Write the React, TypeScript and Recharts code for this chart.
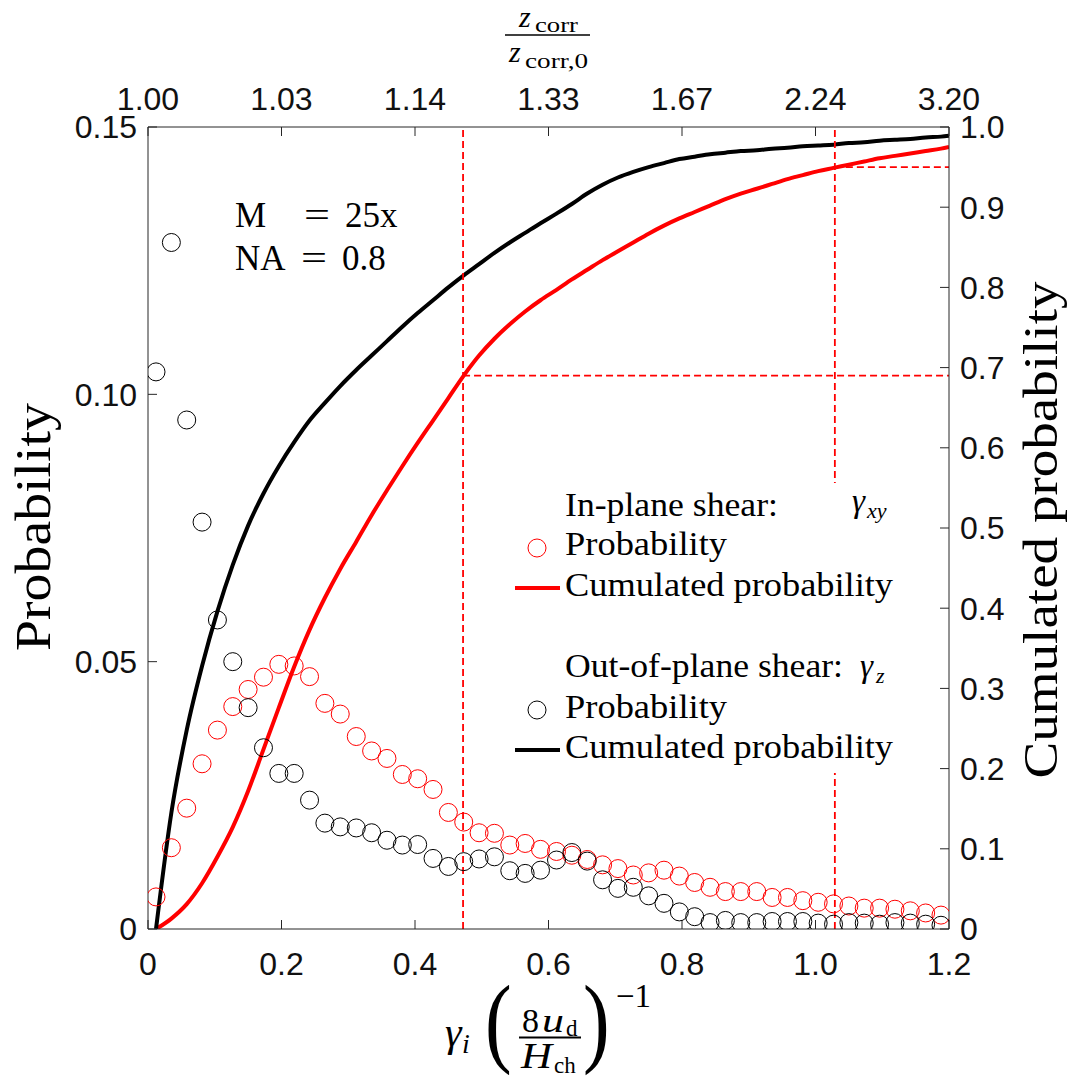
import React from "react";
import { ComposedChart, Line, Scatter, XAxis, YAxis, Label } from "recharts";

// bin centres of the shear-rate histogram
const GAMMA = [
  0.012, 0.035, 0.058, 0.081, 0.104, 0.127, 0.150, 0.173, 0.196, 0.219,
  0.242, 0.265, 0.288, 0.312, 0.335, 0.358, 0.381, 0.404, 0.427, 0.450,
  0.473, 0.496, 0.519, 0.542, 0.565, 0.588, 0.612, 0.635, 0.658, 0.681,
  0.704, 0.727, 0.750, 0.773, 0.796, 0.819, 0.842, 0.865, 0.888, 0.912,
  0.935, 0.958, 0.981, 1.004, 1.027, 1.050, 1.073, 1.096, 1.119, 1.142,
  1.165, 1.188,
];
// cumulated curves run on to the right edge
const GAMMA_CUM = [...GAMMA, 1.2];

const P_INPLANE = [
  0.0060, 0.0152, 0.0226, 0.0309, 0.0372, 0.0416, 0.0448, 0.0471, 0.0495, 0.0492,
  0.0472, 0.0422, 0.0402, 0.0360, 0.0333, 0.0319, 0.0289, 0.0281, 0.0261, 0.0218,
  0.0200, 0.0180, 0.0179, 0.0157, 0.0160, 0.0149, 0.0145, 0.0138, 0.0130, 0.0120,
  0.0113, 0.0101, 0.0105, 0.0110, 0.0099, 0.0087, 0.0078, 0.0070, 0.0070, 0.0070,
  0.0059, 0.0059, 0.0053, 0.0050, 0.0047, 0.0043, 0.0039, 0.0039, 0.0037, 0.0034,
  0.0030, 0.0026,
];
const P_OUTPLANE = [
  0.1042, 0.1284, 0.0952, 0.0761, 0.0578, 0.0500, 0.0414, 0.0339, 0.0291, 0.0291,
  0.0241, 0.0198, 0.0191, 0.0189, 0.0180, 0.0166, 0.0157, 0.0158, 0.0132, 0.0117,
  0.0126, 0.0131, 0.0135, 0.0109, 0.0104, 0.0110, 0.0129, 0.0143, 0.0127, 0.0092,
  0.0076, 0.0078, 0.0062, 0.0048, 0.0032, 0.0023, 0.0012, 0.0016, 0.0012, 0.0012,
  0.0014, 0.0014, 0.0014, 0.0011, 0.0009, 0.0012, 0.0011, 0.0009, 0.0012, 0.0011,
  0.0009, 0.0007,
];
const CUM_INPLANE = [
  0.000, 0.013, 0.031, 0.057, 0.090, 0.127, 0.172, 0.224, 0.276, 0.327,
  0.373, 0.413, 0.449, 0.483, 0.516, 0.547, 0.577, 0.606, 0.634, 0.662,
  0.690, 0.715, 0.736, 0.754, 0.770, 0.784, 0.797, 0.810, 0.822, 0.834,
  0.845, 0.856, 0.867, 0.877, 0.886, 0.894, 0.902, 0.910, 0.917, 0.923,
  0.929, 0.935, 0.940, 0.945, 0.949, 0.953, 0.957, 0.961, 0.964, 0.967,
  0.970, 0.973, 0.975,
];
const CUM_OUTPLANE = [
  0.000, 0.145, 0.248, 0.328, 0.396, 0.454, 0.503, 0.543, 0.577, 0.607,
  0.634, 0.656, 0.677, 0.697, 0.715, 0.733, 0.751, 0.768, 0.784, 0.800,
  0.815, 0.829, 0.843, 0.856, 0.868, 0.880, 0.892, 0.904, 0.917, 0.928,
  0.937, 0.944, 0.950, 0.955, 0.960, 0.963, 0.966, 0.968, 0.970, 0.971,
  0.973, 0.974, 0.976, 0.977, 0.978, 0.980, 0.981, 0.983, 0.984, 0.985,
  0.987, 0.988, 0.989,
];

// dashed guides: shear at which the in-plane cumulated probability reaches 0.69 / 0.95
const GUIDE_GAMMA = [0.472, 1.029];
const GUIDE_CUM = [0.69, 0.95];

const X_TICKS = [0, 0.2, 0.4, 0.6, 0.8, 1.0, 1.2];
const TOP_TICK_LABELS = ["1.00", "1.03", "1.14", "1.33", "1.67", "2.24", "3.20"];
const LEFT_TICKS = [0, 0.05, 0.1, 0.15];
const RIGHT_TICKS = [0, 0.1, 0.2, 0.3, 0.4, 0.5, 0.6, 0.7, 0.8, 0.9, 1.0];

const RED = "#ff0000";
const AXIS = "#262626";
const SANS = "'Liberation Sans', Arial, sans-serif";
const SERIF = "'Liberation Serif', 'Times New Roman', serif";
const TICK = { fontSize: 32, fill: "#111", fontFamily: SANS };

const inPlane = GAMMA.map((x, i) => ({ x, y: P_INPLANE[i] }));
const outPlane = GAMMA.map((x, i) => ({ x, y: P_OUTPLANE[i] }));
const cumIn = GAMMA_CUM.map((x, i) => ({ x, y: CUM_INPLANE[i] }));
const cumOut = GAMMA_CUM.map((x, i) => ({ x, y: CUM_OUTPLANE[i] }));
const guides = [
  [{ x: GUIDE_GAMMA[0], y: 0 }, { x: GUIDE_GAMMA[0], y: 1 }],
  [{ x: GUIDE_GAMMA[0], y: GUIDE_CUM[0] }, { x: 1.2, y: GUIDE_CUM[0] }],
  [{ x: GUIDE_GAMMA[1], y: 0 }, { x: GUIDE_GAMMA[1], y: 1 }],
  [{ x: GUIDE_GAMMA[1], y: GUIDE_CUM[1] }, { x: 1.2, y: GUIDE_CUM[1] }],
];

const ring = (color: string) => (p: any) =>
  <circle cx={p.cx} cy={p.cy} r={9} fill="none" stroke={color} strokeWidth={1} />;

const fmt = (d: number) => (v: number) => (v === 0 ? "0" : v.toFixed(d));

function BottomTitle() {
  return (
    <g fontFamily={SERIF} fill="#000" stroke="none">
      <text x={445} y={1046} fontSize={42} fontStyle="italic">γ</text>
      <text x={462} y={1053} fontSize={28} fontStyle="italic">i</text>
      <text transform="translate(485,1054) scale(0.8,1)" fontSize={100}>(</text>
      <text x={522} y={1032} fontSize={34}>8</text>
      <text x={542} y={1032} fontSize={34} fontStyle="italic" textLength={22} lengthAdjust="spacingAndGlyphs">u</text>
      <text x={566} y={1036} fontSize={23}>d</text>
      <line x1={519} x2={581} y1={1037.5} y2={1037.5} stroke="#000" strokeWidth={1.8} />
      <text x={521} y={1068} fontSize={35} fontStyle="italic" textLength={31} lengthAdjust="spacingAndGlyphs">H</text>
      <text x={554} y={1073} fontSize={23}>ch</text>
      <text transform="translate(583,1054) scale(0.8,1)" fontSize={100}>)</text>
      <text x={616} y={1007} fontSize={33}>−1</text>
    </g>
  );
}

function TopTitle() {
  return (
    <g fontFamily={SERIF} fill="#000" stroke="none">
      <text x={519} y={27} fontSize={30} fontStyle="italic">z</text>
      <text x={535} y={32} fontSize={21} textLength={43} lengthAdjust="spacingAndGlyphs">corr</text>
      <line x1={505} x2={590} y1={35} y2={35} stroke="#000" strokeWidth={1.6} />
      <text x={509} y={62} fontSize={30} fontStyle="italic">z</text>
      <text x={525} y={68} fontSize={21} textLength={63} lengthAdjust="spacingAndGlyphs">corr,0</text>
    </g>
  );
}

function LeftTitle() {
  return (
    <text transform="translate(50,527) rotate(-90)" textAnchor="middle" fontFamily={SERIF} stroke="none"
      fontSize={50} fill="#000" textLength={248} lengthAdjust="spacingAndGlyphs">Probability</text>
  );
}

function RightTitle() {
  return (
    <text transform="translate(1057,530) rotate(-90)" textAnchor="middle" fontFamily={SERIF} stroke="none"
      fontSize={48} fill="#000" textLength={497} lengthAdjust="spacingAndGlyphs">Cumulated probability</text>
  );
}

function Overlay() {
  const lt = { fontFamily: SERIF, fontSize: 33, fill: "#000", lengthAdjust: "spacingAndGlyphs" as const };
  return (
    <svg width={1067} height={1077} style={{ position: "absolute", left: 0, top: 0, pointerEvents: "none" }}>
      {/* setup annotation */}
      <g fontFamily={SERIF} fontSize={35} fill="#000">
        <text x={235} y={227}>M</text>
        <text x={304} y={227} textLength={26} lengthAdjust="spacingAndGlyphs">=</text>
        <text x={345} y={227}>25x</text>
        <text x={235} y={270}>NA</text>
        <text x={301} y={270} textLength={26} lengthAdjust="spacingAndGlyphs">=</text>
        <text x={342} y={270}>0.8</text>
      </g>
      {/* legend */}
      <rect x={505} y={483} width={395} height={290} fill="#fff" />
      <text {...lt} x={565} y={516} textLength={213}>In-plane shear:</text>
      <text x={852} y={512} fontFamily={SERIF} fontSize={33} fontStyle="italic">γ</text>
      <text x={867} y={518} fontFamily={SERIF} fontSize={22} fontStyle="italic">xy</text>
      <circle cx={537} cy={548} r={9} fill="none" stroke={RED} strokeWidth={1} />
      <text {...lt} x={565} y={555} textLength={162}>Probability</text>
      <line x1={515} x2={560} y1={588} y2={588} stroke={RED} strokeWidth={4} />
      <text {...lt} x={565} y={596} textLength={328}>Cumulated probability</text>
      <text {...lt} x={565} y={677} textLength={278}>Out-of-plane shear:</text>
      <text x={860} y={677} fontFamily={SERIF} fontSize={33} fontStyle="italic">γ</text>
      <text x={876} y={683} fontFamily={SERIF} fontSize={22} fontStyle="italic">z</text>
      <circle cx={537} cy={710} r={9} fill="none" stroke="#000" strokeWidth={1} />
      <text {...lt} x={565} y={718} textLength={162}>Probability</text>
      <line x1={515} x2={560} y1={750} y2={750} stroke="#000" strokeWidth={4} />
      <text {...lt} x={565} y={758} textLength={328}>Cumulated probability</text>
    </svg>
  );
}

export default function App() {
  return (
    <div style={{ position: "absolute", left: 0, top: 0, width: 1067, height: 1077, overflow: "hidden", background: "#fff" }}>
      <ComposedChart width={1067} height={1077} margin={{ top: 87, right: 48, bottom: 108, left: 78 }}>
        <XAxis
          xAxisId="b" dataKey="x" type="number" domain={[0, 1.2]} ticks={X_TICKS} interval={0}
          allowDataOverflow orientation="bottom" height={40} stroke={AXIS}
          tickSize={-9} tickMargin={32} tick={TICK} tickFormatter={fmt(1)}
          label={<Label content={BottomTitle} />}
        />
        <XAxis
          xAxisId="t" dataKey="x" type="number" domain={[0, 1.2]} ticks={X_TICKS} interval={0}
          allowDataOverflow orientation="top" height={40} stroke={AXIS}
          tickSize={-9} tickMargin={26} tick={TICK}
          tickFormatter={(v: number) => TOP_TICK_LABELS[Math.round(v / 0.2)]}
          label={<Label content={TopTitle} />}
        />
        <YAxis
          yAxisId="l" type="number" domain={[0, 0.15]} ticks={LEFT_TICKS} interval={0}
          allowDataOverflow orientation="left" width={70} stroke={AXIS}
          tickSize={-9} tickMargin={20} tick={TICK} tickFormatter={fmt(2)}
          label={<Label content={LeftTitle} />}
        />
        <YAxis
          yAxisId="r" type="number" domain={[0, 1]} ticks={RIGHT_TICKS} interval={0}
          allowDataOverflow orientation="right" width={70} stroke={AXIS}
          tickSize={-9} tickMargin={20} tick={TICK} tickFormatter={fmt(1)}
          label={<Label content={RightTitle} />}
        />

        <Scatter xAxisId="b" yAxisId="l" data={inPlane} dataKey="y" shape={ring(RED)} isAnimationActive={false} />
        <Scatter xAxisId="b" yAxisId="l" data={outPlane} dataKey="y" shape={ring("#000")} isAnimationActive={false} />

        <Line xAxisId="b" yAxisId="r" data={cumIn} dataKey="y" type="monotone" stroke={RED} strokeWidth={4}
          dot={false} activeDot={false} isAnimationActive={false} />
        <Line xAxisId="b" yAxisId="r" data={cumOut} dataKey="y" type="monotone" stroke="#000" strokeWidth={4}
          dot={false} activeDot={false} isAnimationActive={false} />

        {guides.map((g, i) => (
          <Line key={i} xAxisId="b" yAxisId="r" data={g} dataKey="y" type="linear" stroke={RED}
            strokeWidth={1.8} strokeDasharray="7 4" dot={false} activeDot={false} isAnimationActive={false} />
        ))}
      </ComposedChart>
      <Overlay />
    </div>
  );
}
